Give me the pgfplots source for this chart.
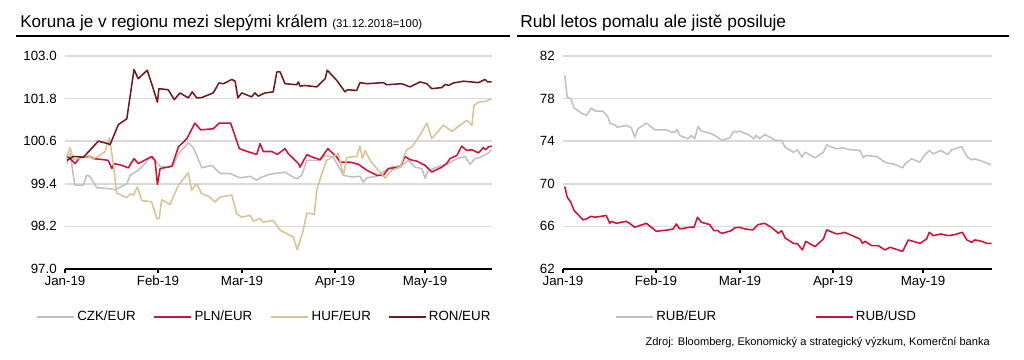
\documentclass[border=0pt]{standalone}
\usepackage{fontspec}
\setmainfont{Liberation Sans}
\usepackage{pgfplots}
\pgfplotsset{compat=1.18}
\definecolor{cgray}{RGB}{192,192,192}
\definecolor{cred}{RGB}{210,16,52}
\definecolor{ctan}{RGB}{215,195,148}
\definecolor{cdark}{RGB}{110,25,30}
\definecolor{gridc}{RGB}{217,217,217}
\newcommand{\lbox}[1]{\makebox[55.2pt][l]{#1}}
\newcommand{\rbox}[1]{\makebox[117pt][l]{#1}}
\pgfplotsset{
  kbstyle/.style={
    scale only axis,
    height=159.75pt,
    axis x line*=bottom,
    axis y line*=left,
    y axis line style={draw=none},
    x axis line style={line width=1.2pt, black},
    ymajorgrids,
    grid style={draw=gridc, line width=1.1pt},
    tick align=outside,
    major tick length=3pt,
    xtick style={line width=1.2pt, black},
    ytick style={draw=none},
    xtick={0,31,59,90,120},
    xticklabels={Jan-19,Feb-19,Mar-19,Apr-19,May-19},
    tick label style={font=\fontsize{10}{12}\selectfont},
    xticklabel style={inner sep=2.2pt},
    yticklabel style={inner sep=3pt},
    /pgf/number format/assume math mode=true,
    xmin=0,
    legend columns=-1,
    legend cell align=left,
    legend image code/.code={\draw[##1] (0pt,0pt) -- (27.75pt,0pt);},
    every axis plot/.append style={line width=1.15pt, line join=round, mark=none},
  }
}
\begin{document}
\begin{tikzpicture}[x=0.75pt,y=0.75pt]
\path[use as bounding box] (0,0) rectangle (1024,360);
% titles
\node[anchor=base west, inner sep=0pt, font=\fontsize{12.8}{15}\selectfont] at (20,332)
  {Koruna je v regionu mezi slepými králem {\fontsize{8.5}{10}\selectfont (31.12.2018=100)}};
\draw[line width=1.5pt] (16,324) -- (510,324);
\node[anchor=base west, inner sep=0pt, font=\fontsize{13}{15}\selectfont] at (520,332)
  {Rubl letos pomalu ale jistě posiluje};
\draw[line width=1.5pt] (517,324) -- (1009,324);
\node[anchor=base east, inner sep=0pt, font=\fontsize{8.3}{10}\selectfont] at (990,14.5)
  {Zdroj: Bloomberg, Ekonomický a strategický výzkum, Komerční banka};

\begin{axis}[kbstyle,
  at={(48.75pt,68.25pt)}, anchor=south west,
  width=320.25pt,
  xmax=142.3,
  ymin=97, ymax=103,
  ytick={97,98.2,99.4,100.6,101.8,103},
  yticklabel style={/pgf/number format/.cd, fixed, fixed zerofill, precision=1},
  legend style={at={(axis description cs:-0.068,-0.225)}, anchor=west,
    draw=none, fill=none, inner sep=0pt,
    nodes={inner sep=1.9pt},
    /tikz/every even column/.append style={column sep=0pt},
    font=\fontsize{10}{12}\selectfont},
]
\addplot[cgray] coordinates {
(0.6,99.97) (1.7,100.25) (3.3,99.36) (6.1,99.36) (7.2,99.64) (8.3,99.61) (10.6,99.29)
(15.0,99.26) (16.7,99.23) (20.6,99.40) (21.7,99.64) (24.4,99.78) (26.7,99.97) (28.3,100.15)
(30.0,100.06) (31.7,99.89) (33.9,99.87) (36.1,99.92) (37.8,100.25) (41.1,100.55) (42.8,100.42)
(45.6,99.85) (48.9,99.92) (51.7,99.69) (55.0,99.69) (58.3,99.57) (61.7,99.61) (63.9,99.50)
(65.0,99.57) (68.3,99.67) (71.7,99.71) (73.3,99.73) (75.0,99.64) (77.2,99.54) (78.9,99.64)
(80.6,100.06) (85.0,100.06) (86.7,100.20) (89.4,100.15) (92.8,99.64) (95.6,99.59) (98.3,99.61)
(99.4,99.45) (100.6,99.57) (103.9,99.61) (106.7,99.78) (108.9,99.87) (112.2,99.92) (114.4,100.06)
(116.7,99.87) (118.9,99.83) (120.0,99.56) (121.1,99.78) (122.8,99.83) (125.6,99.92) (127.8,99.97)
(130.6,100.11) (133.3,100.17) (135.0,99.95) (136.7,100.11) (138.3,100.14) (141.1,100.27) (142.2,100.36)
};
\addplot[cred] coordinates {
(0.6,100.17) (1.7,100.11) (3.3,99.97) (5.0,100.14) (8.3,100.17) (9.4,100.11) (12.8,100.08)
(14.4,100.06) (15.6,99.83) (16.3,99.97) (18.9,99.92) (21.1,99.85) (23.0,100.11) (24.4,99.97)
(28.9,100.17) (30.0,100.06) (30.8,99.38) (31.7,99.83) (35.6,99.89) (37.8,100.44) (40.6,100.67)
(43.3,101.11) (45.2,100.92) (49.4,100.95) (51.4,101.11) (55.2,101.11) (58.1,100.39) (61.1,100.30)
(63.9,100.23) (65.0,100.53) (66.1,100.31) (68.9,100.31) (70.8,100.23) (73.3,100.39) (74.4,100.25)
(77.8,99.97) (78.3,99.87) (80.6,100.22) (82.8,100.14) (85.0,100.08) (87.6,100.39) (90.6,100.15)
(91.7,100.01) (95.0,100.01) (97.8,99.95) (100.6,99.78) (103.9,99.64) (106.1,99.64) (107.8,99.83)
(111.7,99.87) (113.3,100.17) (115.0,100.08) (117.2,100.04) (120.0,99.92) (121.1,99.83) (122.2,99.73)
(125.6,99.87) (127.2,99.97) (128.3,100.11) (130.6,100.20) (132.2,100.46) (133.9,100.34) (135.6,100.36)
(137.8,100.27) (139.4,100.42) (140.2,100.36) (141.1,100.44) (142.2,100.46)
};
\addplot[ctan] coordinates {
(0.6,100.17) (1.7,100.42) (2.8,100.08) (4.4,100.11) (7.8,100.20) (8.9,100.11) (10.6,100.15)
(13.3,100.30) (14.8,100.70) (16.1,99.97) (17.2,99.14) (20.6,99.01) (21.7,99.12) (22.8,99.08)
(24.1,99.31) (25.6,98.93) (28.9,98.89) (30.6,98.42) (31.4,98.42) (32.2,98.95) (35.0,98.82)
(37.8,99.36) (41.1,99.71) (42.2,99.22) (43.9,99.40) (45.6,99.12) (47.8,99.05) (50.0,98.89)
(51.7,99.03) (55.6,99.08) (57.2,98.56) (58.9,98.46) (61.7,98.51) (62.8,98.35) (65.0,98.42)
(66.1,98.32) (69.4,98.37) (71.7,98.09) (73.9,98.00) (76.1,97.90) (77.4,97.54) (79.4,98.09)
(80.6,98.58) (83.1,98.54) (83.9,99.22) (85.6,99.69) (87.2,100.06) (91.1,100.25) (92.8,99.64)
(93.9,100.14) (97.2,100.17) (98.3,100.46) (99.1,100.11) (100.0,100.34) (101.7,100.06) (104.4,99.78)
(106.7,99.56) (108.9,99.78) (111.7,99.87) (112.8,100.14) (113.9,100.36) (115.6,100.44) (117.8,100.70)
(120.6,101.11) (122.2,100.67) (126.1,101.05) (128.9,100.88) (133.9,101.19) (135.6,101.05) (136.3,101.61)
(137.8,101.70) (140.0,101.72) (142.2,101.80)
};
\addplot[cdark] coordinates {
(0.6,100.06) (2.8,100.17) (6.1,100.15) (7.8,100.30) (11.1,100.60) (14.4,100.53) (15.0,100.50)
(17.8,101.07) (20.6,101.23) (23.0,102.62) (24.4,102.36) (27.4,102.60) (29.4,102.08) (30.8,101.70)
(31.3,102.08) (34.4,102.05) (36.4,101.77) (38.3,101.96) (41.1,101.82) (42.4,101.99) (43.9,101.82)
(45.6,101.83) (49.4,101.96) (51.3,102.24) (52.8,102.22) (55.6,102.34) (56.7,102.29) (57.6,101.82)
(58.9,101.96) (62.2,101.85) (63.3,101.96) (64.4,101.87) (66.7,101.96) (69.4,101.99) (70.6,102.55)
(71.7,102.55) (73.3,102.22) (77.2,102.19) (77.8,102.27) (78.3,102.15) (80.0,102.17) (83.9,102.13)
(86.7,102.36) (87.4,102.60) (90.6,102.31) (93.3,101.99) (94.2,102.05) (97.2,102.03) (98.3,102.25)
(100.6,102.22) (106.1,102.25) (107.2,102.19) (112.2,102.22) (115.0,102.13) (118.3,102.27) (120.6,102.22)
(122.2,102.08) (125.6,102.11) (126.7,102.20) (127.8,102.17) (129.4,102.24) (132.8,102.29) (137.8,102.25)
(140.0,102.34) (140.8,102.27) (142.2,102.27)
};
\legend{\lbox{CZK/EUR},\lbox{PLN/EUR},\lbox{HUF/EUR},RON/EUR}
\end{axis}

\begin{axis}[kbstyle,
  at={(422.25pt,68.25pt)}, anchor=south west,
  width=321.75pt,
  xmax=143,
  ymin=62, ymax=82,
  ytick={62,66,70,74,78,82},
  legend style={at={(axis description cs:0.1212,-0.225)}, anchor=west,
    draw=none, fill=none, inner sep=0pt,
    nodes={inner sep=1.9pt},
    /tikz/every even column/.append style={column sep=0pt},
    font=\fontsize{10}{12}\selectfont},
]
\addplot[cgray] coordinates {
(0.6,80.18) (1.4,78.14) (2.6,77.99) (3.7,77.14) (6.1,76.64) (7.8,76.42) (8.6,76.73)
(9.4,77.11) (10.8,76.83) (13.3,76.83) (15.0,76.26) (15.6,75.70) (17.0,75.57) (18.1,75.32)
(21.1,75.48) (22.8,75.26) (23.9,74.38) (25.0,75.17) (27.8,75.70) (30.6,75.07) (34.4,75.07)
(36.1,74.85) (37.2,74.85) (38.1,75.07) (38.9,74.54) (41.7,74.23) (42.8,74.54) (43.9,74.23)
(45.0,75.39) (46.1,74.95) (48.9,74.76) (50.6,74.54) (53.0,74.07) (55.6,74.32) (56.9,74.95)
(57.8,74.85) (58.9,74.95) (62.2,74.54) (63.6,74.23) (64.4,74.54) (65.6,74.23) (67.2,74.63)
(69.4,74.32) (70.8,74.07) (72.9,74.07) (74.0,73.44) (76.8,72.97) (78.2,73.19) (79.6,72.50)
(80.7,72.97) (84.0,72.44) (86.8,72.97) (87.9,73.66) (89.0,73.50) (91.2,73.29) (93.4,73.38)
(95.1,73.22) (99.0,73.13) (100.1,72.44) (100.9,72.66) (104.6,72.56) (107.3,72.03) (108.4,71.94)
(110.1,71.87) (113.2,71.50) (114.0,71.87) (116.2,72.34) (119.0,72.03) (120.4,72.66) (122.1,73.13)
(123.4,72.82) (126.0,73.13) (128.2,72.75) (129.6,73.19) (132.9,73.50) (134.6,72.56) (136.2,72.25)
(137.3,72.34) (139.6,72.13) (142.7,71.78)
};
\addplot[cred] coordinates {
(0.6,69.74) (1.4,68.74) (2.6,68.27) (3.7,67.49) (6.7,66.61) (7.8,66.70) (9.4,66.95)
(10.6,66.86) (14.4,67.02) (15.6,66.29) (16.1,66.48) (17.8,66.29) (21.1,66.48) (22.2,66.29)
(23.9,65.92) (27.8,66.29) (31.1,65.54) (35.0,65.67) (36.7,65.76) (37.8,66.23) (38.9,65.76)
(42.2,65.92) (43.7,65.92) (44.8,66.86) (46.1,66.39) (48.9,66.17) (50.3,65.60) (51.7,65.60)
(52.2,65.45) (53.1,65.35) (56.1,65.60) (57.2,65.86) (58.9,65.92) (60.6,65.76) (63.3,65.67)
(65.0,66.17) (67.2,66.29) (69.4,65.92) (70.8,65.60) (71.8,65.35) (72.9,65.60) (74.0,64.92)
(76.8,64.41) (78.2,64.35) (79.8,63.79) (80.9,64.60) (84.0,64.10) (86.8,64.82) (87.9,65.67)
(91.2,65.29) (92.9,65.35) (93.8,65.45) (99.0,64.82) (99.8,64.41) (100.7,64.60) (102.9,64.19)
(105.1,64.19) (107.3,63.79) (109.0,64.04) (113.2,63.66) (115.1,64.73) (119.0,64.41) (121.2,64.82)
(122.1,65.45) (123.4,65.13) (126.0,65.29) (128.4,65.13) (130.7,65.23) (133.1,65.45) (134.6,64.73)
(136.2,64.51) (137.3,64.73) (139.6,64.60) (141.2,64.41) (142.9,64.41)
};
\legend{\rbox{RUB/EUR},RUB/USD}
\end{axis}
\end{tikzpicture}
\end{document}
